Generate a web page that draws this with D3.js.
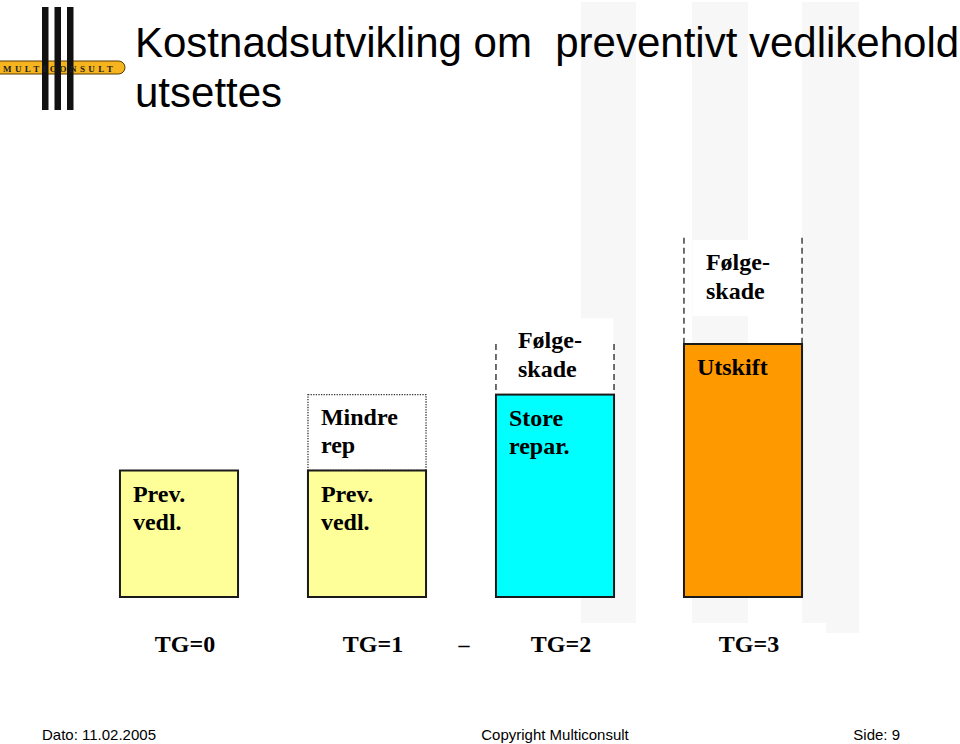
<!DOCTYPE html>
<html>
<head>
<meta charset="utf-8">
<script src="https://cdn.jsdelivr.net/npm/d3@7/dist/d3.min.js"></script>
<style>
  html, body { margin: 0; padding: 0; background: #fff; }
  svg { display: block; }
</style>
</head>
<body>
<svg id="chart" width="960" height="744"></svg>
<script>
// ---- data ----
const categories = ["TG=0", "TG=1", "TG=2", "TG=3"];
const baseValues = [2.5, 2.5, 4.0, 5.0];
const baseLabels = [["Prev.", "vedl."], ["Prev.", "vedl."], ["Store", "repar."], ["Utskift"]];
const topValues = [0, 1.5, 1.0, 2.1];
const topLabels = [[], ["Mindre", "rep"], ["Følge-", "skade"], ["Følge-", "skade"]];
const topKinds = ["none", "dotted", "dashed", "dashed"];
const titleLines = ["Kostnadsutvikling om  preventivt vedlikehold", "utsettes"];
const footer = ["Dato: 11.02.2005", "Copyright Multiconsult", "Side: 9"];

// ---- layout ----
const svg = d3.select("#chart");
const baseColors = ["#FFFF99", "#FFFF99", "#00FFFF", "#FF9900"];
const serif = "'Liberation Serif', 'Times New Roman', serif";
const sans = "'Liberation Sans', Arial, sans-serif";

const x = d3.scaleBand().domain(categories).range([85, 837]).paddingInner(0.372).paddingOuter(0.186);
const y = d3.scaleLinear().domain([0, 10]).range([597, 91]);

// light background stripes (slide decoration)
const stripes = [[581, 636, 623], [692, 748, 623], [802, 826, 623], [826, 859, 633]];
svg.append("g").selectAll("rect").data(stripes).join("rect")
  .attr("x", d => d[0]).attr("y", 2).attr("width", d => d[1] - d[0]).attr("height", d => d[2] - 2)
  .attr("fill", "#F7F7F7");

// logo
const logo = svg.append("g");
logo.append("rect").attr("x", -10).attr("y", 61).attr("width", 135).attr("height", 13)
  .attr("rx", 6.5).attr("fill", "#F6B41E").attr("stroke", "#5a3a00").attr("stroke-width", 1);
[42, 54.5, 67].forEach(px => logo.append("rect").attr("x", px).attr("y", 7).attr("width", 6.5).attr("height", 103).attr("fill", "#111"));
logo.append("text").attr("x", 3).attr("y", 71.5).text("MULTICONSULT")
  .attr("font-family", serif).attr("font-weight", "bold").attr("font-size", 9)
  .attr("letter-spacing", 3.4).attr("fill", "#222");

// title
svg.append("g").selectAll("text").data(titleLines).join("text")
  .attr("x", 135).attr("y", (d, i) => 57 + i * 50)
  .attr("font-family", sans).attr("font-size", 42).attr("fill", "#000")
  .attr("xml:space", "preserve").style("white-space", "pre")
  .text(d => d);

// bars
const g = svg.append("g");
const labelFont = 24;
categories.forEach((c, i) => {
  const x0 = x(c), w = x.bandwidth();
  const y0 = y(baseValues[i]);
  const y1 = y(baseValues[i] + topValues[i]);
  const kind = topKinds[i];
  const mid = (y0 + y1) / 2 - 14; // centre of a dashed segment's label block

  if (kind === "dashed") {
    g.append("rect").attr("x", x0 + 8.5).attr("y", mid - 37)
      .attr("width", w - 9).attr("height", 76).attr("fill", "#fff");
    [x0, x0 + w].forEach(px => g.append("line")
      .attr("x1", px).attr("x2", px).attr("y1", y1).attr("y2", y0)
      .attr("stroke", "#222").attr("stroke-width", 1.3).attr("stroke-dasharray", "6,4"));
  } else if (kind === "dotted") {
    g.append("rect").attr("x", x0).attr("y", y1).attr("width", w).attr("height", y0 - y1)
      .attr("fill", "#fff").attr("stroke", "#333").attr("stroke-width", 1.3).attr("stroke-dasharray", "1.3,1.3");
  }

  g.append("rect").attr("x", x0).attr("y", y0).attr("width", w).attr("height", y(0) - y0)
    .attr("fill", baseColors[i]).attr("stroke", "#1a1a1a").attr("stroke-width", 2);

  // base labels
  baseLabels[i].forEach((t, k) => g.append("text")
    .attr("x", x0 + 13).attr("y", y0 + 31 + k * 28).text(t)
    .attr("font-family", serif).attr("font-weight", "bold").attr("font-size", labelFont).attr("fill", "#000"));

  // top labels
  topLabels[i].forEach((t, k) => {
    let tx, ty;
    if (kind === "dashed") {
      tx = x0 + 22; ty = mid - 7 + k * 29;
    } else {
      tx = x0 + 13; ty = y1 + 30 + k * 28;
    }
    g.append("text").attr("x", tx).attr("y", ty).text(t)
      .attr("font-family", serif).attr("font-weight", "bold").attr("font-size", labelFont).attr("fill", "#000");
  });
});

// category axis
const axis = svg.append("g").attr("transform", "translate(0,633)")
  .call(d3.axisBottom(x).tickSize(0).tickPadding(0));
axis.select(".domain").remove();
axis.selectAll(".tick text")
  .attr("x", 6).attr("y", 19).attr("dy", 0)
  .attr("font-family", serif).attr("font-weight", "bold").attr("font-size", 24).attr("fill", "#000");
svg.append("text")
  .attr("x", (x(categories[1]) + x.bandwidth() + x(categories[2])) / 2 + 3).attr("y", 652)
  .attr("text-anchor", "middle").text("–")
  .attr("font-family", serif).attr("font-weight", "bold").attr("font-size", 22);

// footer
const fx = [[42, "start"], [555, "middle"], [900, "end"]];
svg.append("g").selectAll("text").data(footer).join("text")
  .attr("x", (d, i) => fx[i][0]).attr("y", 740).attr("text-anchor", (d, i) => fx[i][1])
  .attr("font-family", sans).attr("font-size", 15).attr("fill", "#000")
  .text(d => d);
</script>
</body>
</html>
